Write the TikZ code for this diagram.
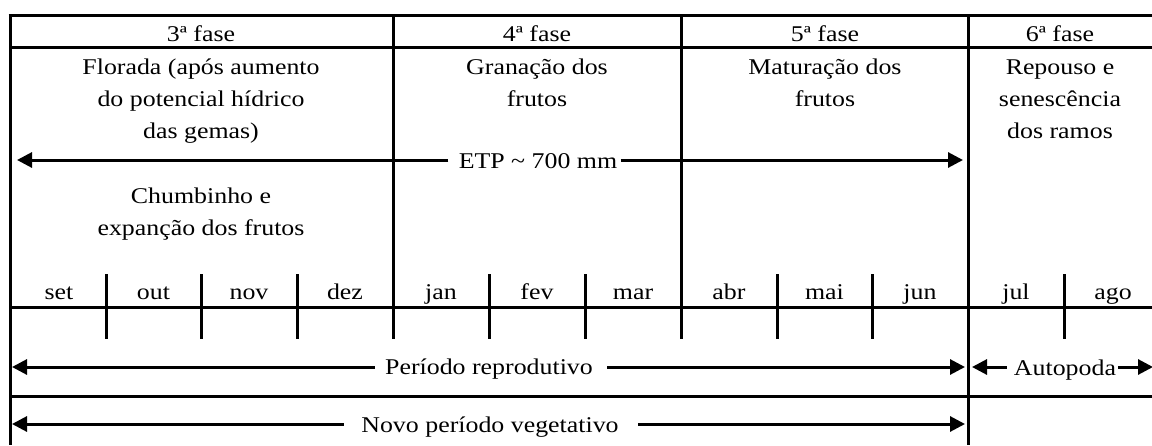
\documentclass[tikz,border=0pt]{standalone}
\usepackage{fontspec}
\setmainfont{Liberation Serif}[FakeStretch=1.15]
\usetikzlibrary{arrows.meta,calc}
\begin{document}
\begin{tikzpicture}[x=0.5pt,y=-0.5pt,
  grid/.style={line width=1.5pt},
  arr/.style={line width=1.5pt,-{Triangle[length=7.5pt,width=7.5pt]}},
  txt/.style={inner sep=0pt,anchor=base,font=\fontsize{11.25}{16}\selectfont}]
\useasboundingbox (0,0) rectangle (1152,445);
\fill[white] (0,0) rectangle (1152,445);

% grid lines
\draw[grid] (8.5,15) -- (1152,15);
\draw[grid] (10,47) -- (1152,47);
\draw[grid] (10,307) -- (1152,307);
\draw[grid] (10,396) -- (1152,396);
\draw[grid] (10,15) -- (10,445);
\draw[grid] (393,15) -- (393,339);
\draw[grid] (681,15) -- (681,339);
\draw[grid] (968,15) -- (968,445);
\foreach \x in {106,201,297,489,585,777,872,1064}
  \draw[grid] (\x,274) -- (\x,339);

% phase headers
\node[txt] (f3) at (201,41) {3ª fase};
\node[txt] (f4) at (537,41) {4ª fase};
\node[txt] (f5) at (825,41) {5ª fase};
\node[txt] (f6) at (1060,41) {6ª fase};

% phase descriptions
\node[txt] (flo1) at (201,74) {Florada (após aumento};
\node[txt] (flo2) at (201,106) {do potencial hídrico};
\node[txt] (flo3) at (201,138) {das gemas)};
\node[txt] (gra1) at (537,74) {Granação dos};
\node[txt] (gra2) at (537,106) {frutos};
\node[txt] (mat1) at (825,74) {Maturação dos};
\node[txt] (mat2) at (825,106) {frutos};
\node[txt] (rep1) at (1060,74) {Repouso e};
\node[txt] (rep2) at (1060,106) {senescência};
\node[txt] (rep3) at (1060,138) {dos ramos};
\node[txt] (chu1) at (201,203) {Chumbinho e};
\node[txt] (chu2) at (201,235) {expanção dos frutos};

% months
\node[txt] (m1) at (59,299) {set};
\node[txt] (m2) at (153.5,299) {out};
\node[txt] (m3) at (249,299) {nov};
\node[txt] (m4) at (345,299) {dez};
\node[txt] (m5) at (441,299) {jan};
\node[txt] (m6) at (537,299) {fev};
\node[txt] (m7) at (633,299) {mar};
\node[txt] (m8) at (729,299) {abr};
\node[txt] (m9) at (824.5,299) {mai};
\node[txt] (m10) at (920,299) {jun};
\node[txt] (m11) at (1016,299) {jul};
\node[txt] (m12) at (1113,299) {ago};

% ETP arrow
\node[txt] (etp) at (538,168) {ETP \char`\~{} 700 mm};
\coordinate (etpL) at (17,160);
\coordinate (etpR) at (963,160);
\draw[arr] ($(etp.west|-etpL)+(-10,0)$) -- (etpL);
\draw[arr] ($(etp.east|-etpR)+(3,0)$) -- (etpR);

% Periodo reprodutivo
\node[txt] (prep) at (489,374) {Período reprodutivo};
\coordinate (prepL) at (12,367);
\coordinate (prepR) at (965,367);
\draw[arr] ($(prep.west|-prepL)+(-10,0)$) -- (prepL);
\draw[arr] ($(prep.east|-prepR)+(14,0)$) -- (prepR);

% Autopoda
\node[txt] (auto) at (1065,375) {Autopoda};
\coordinate (autoL) at (972,367);
\coordinate (autoR) at (1153,367);
\draw[arr] ($(auto.west|-autoL)+(-7,0)$) -- (autoL);
\draw[arr] ($(auto.east|-autoR)+(2,0)$) -- (autoR);

% Novo periodo vegetativo
\node[txt] (novo) at (490,432) {Novo período vegetativo};
\coordinate (novoL) at (12,424);
\coordinate (novoR) at (965,424);
\draw[arr] ($(novo.west|-novoL)+(-17,0)$) -- (novoL);
\draw[arr] ($(novo.east|-novoR)+(19,0)$) -- (novoR);
\end{tikzpicture}
\end{document}
